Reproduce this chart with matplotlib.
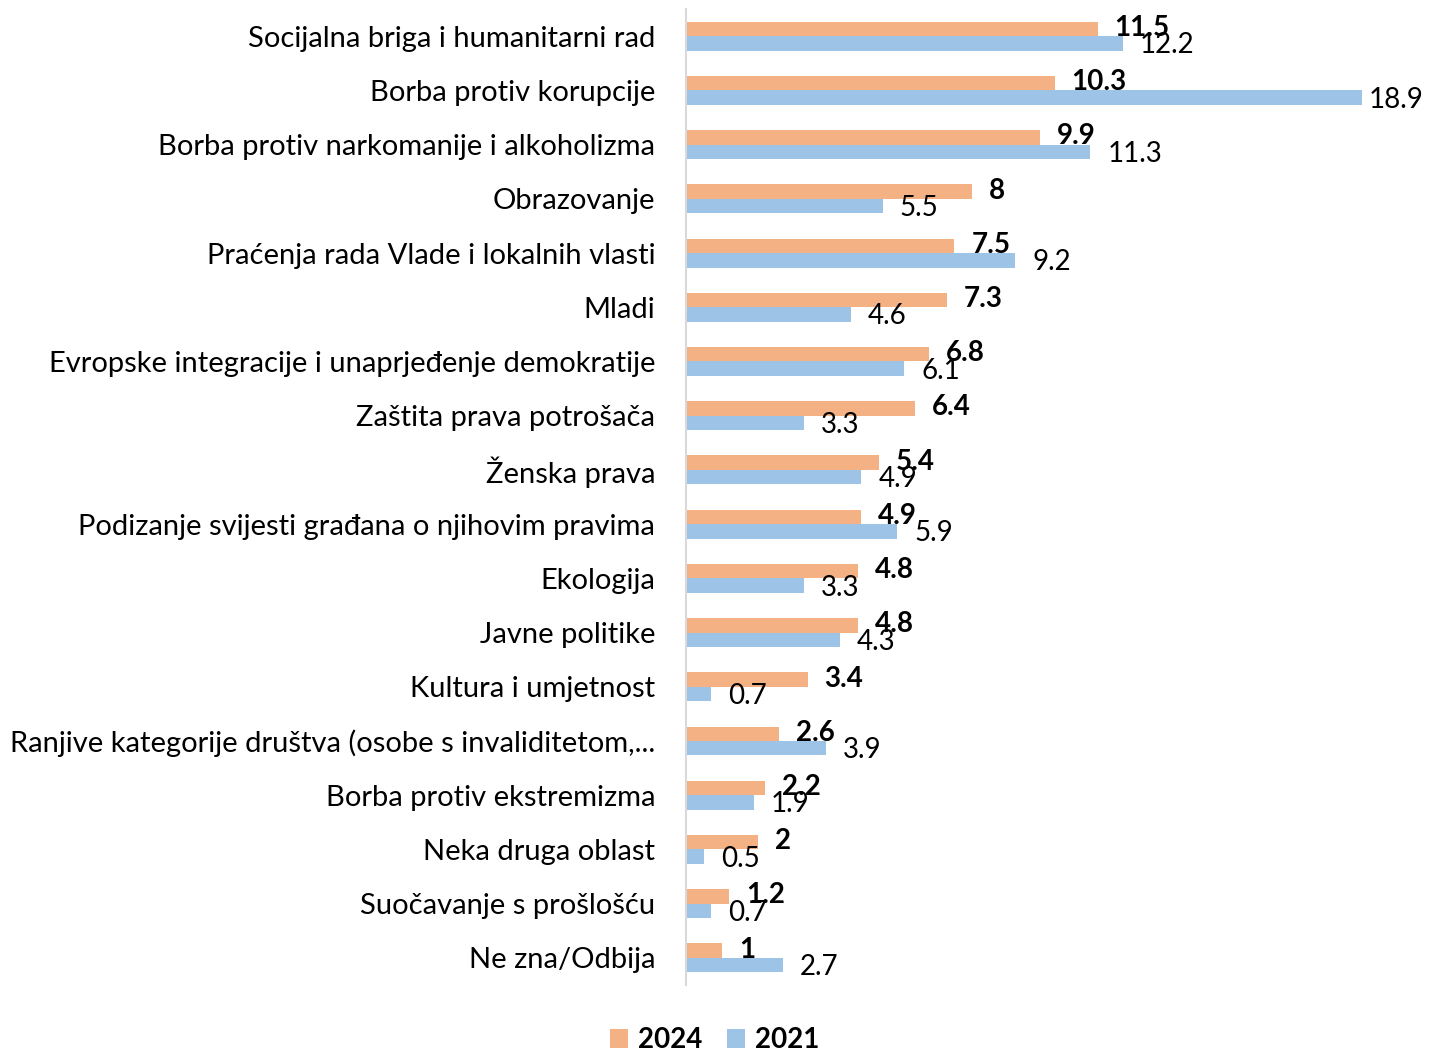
import matplotlib.pyplot as plt
import numpy as np

categories = [
    'Socijalna briga i humanitarni rad',
    'Borba protiv korupcije',
    'Borba protiv narkomanije i alkoholizma',
    'Obrazovanje',
    'Praćenja rada Vlade i lokalnih vlasti',
    'Mladi',
    'Evropske integracije i unaprjeđenje demokratije',
    'Zaštita prava potrošača',
    'Ženska prava',
    'Podizanje svijesti građana o njihovim pravima',
    'Ekologija',
    'Javne politike',
    'Kultura i umjetnost',
    'Ranjive kategorije društva (osobe s invaliditetom,...',
    'Borba protiv ekstremizma',
    'Neka druga oblast',
    'Suočavanje s prošlošću',
    'Ne zna/Odbija',
]
values_2024 = [11.5, 10.3, 9.9, 8, 7.5, 7.3, 6.8, 6.4, 5.4, 4.9, 4.8, 4.8, 3.4, 2.6, 2.2, 2, 1.2, 1]
values_2021 = [12.2, 18.9, 11.3, 5.5, 9.2, 4.6, 6.1, 3.3, 4.9, 5.9, 3.3, 4.3, 0.7, 3.9, 1.9, 0.5, 0.7, 2.7]

plt.rcParams['font.family'] = ['Lato', 'DejaVu Sans']

fig = plt.figure(figsize=(14.29, 10.52), dpi=100)
ax = fig.add_axes([0.48, 0.0637, 0.501, 0.9277])

y = np.arange(len(categories))
h = 0.267
c24 = '#F4B183'
c21 = '#9DC3E6'
ax.barh(y - h / 2, values_2024, height=h, color=c24, label='2024')
ax.barh(y + h / 2, values_2021, height=h, color=c21, label='2021')

vmax = max(values_2021)
for i, (a, b) in enumerate(zip(values_2024, values_2021)):
    ax.annotate(f'{a:g}', (a, i - h / 2), xytext=(17, 1), textcoords='offset pixels',
                va='center', ha='left', fontsize=20, fontweight='bold')
    # longest bar: label pulled in so it stays inside the figure
    off = 6 if b == vmax else 17
    ax.annotate(f'{b:g}', (b, i + h / 2), xytext=(off, -2), textcoords='offset pixels',
                va='center', ha='left', fontsize=20)

ax.set_xlim(0, 20)
ax.set_ylim(len(categories) - 0.5, -0.5)
ax.set_yticks(y)
ax.set_yticklabels(categories, fontsize=21)
ax.tick_params(axis='y', length=0, pad=22)
ax.set_xticks([])
for s in ['top', 'right', 'bottom']:
    ax.spines[s].set_visible(False)
ax.spines['left'].set_color('#D9D9D9')
ax.spines['left'].set_linewidth(1.5)

fig.legend(loc='center', bbox_to_anchor=(0.5, 0.0114), ncol=2, frameon=False,
           prop={'size': 20, 'weight': 'bold'}, handlelength=0.65, handleheight=0.65,
           handletextpad=0.35, columnspacing=0.9)

fig.savefig('out.png', dpi=100)
